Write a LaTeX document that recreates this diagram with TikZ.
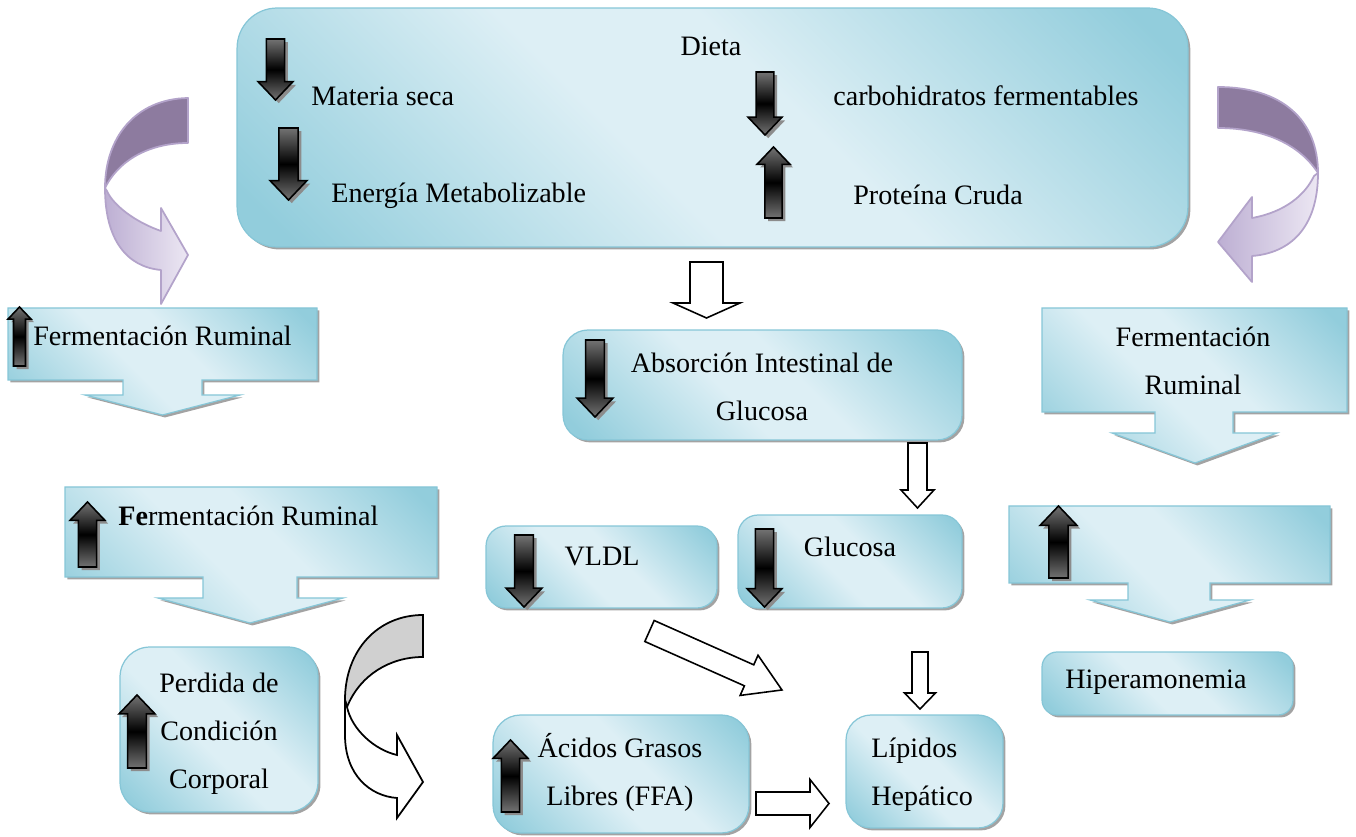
\documentclass[tikz,border=0pt]{standalone}
\usepackage{fontspec}
\setmainfont{Liberation Serif}
\usetikzlibrary{shadows}

\definecolor{boxlight}{HTML}{DDEFF5}
\definecolor{boxdark}{HTML}{92CDDC}
\definecolor{boxline}{HTML}{86C6D7}
\definecolor{purpledark}{HTML}{8D7B9F}
\definecolor{purplemid}{HTML}{BDAFD3}
\definecolor{purplelight}{HTML}{ECE7F3}
\definecolor{purpleline}{HTML}{B3A3CA}
\definecolor{curvegray}{HTML}{D0D0D0}

\pgfdeclarehorizontalshading{boxshade}{100bp}{color(0bp)=(boxdark); color(18bp)=(boxdark); color(44bp)=(boxlight); color(56bp)=(boxlight); color(82bp)=(boxdark); color(100bp)=(boxdark)}

% black block arrow: x, tail y, tip y : half width
\def\darkarrow(#1,#2,#3:#4){%
  \pgfmathsetmacro\hb{#3-(#3-#2)/abs(#3-#2)*1.05*#4}%
  \pgfmathsetmacro\sw{0.52*#4}%
  \draw[darkarr] (#1-\sw,#2) -- (#1-\sw,\hb) -- (#1-#4,\hb) -- (#1,#3) -- (#1+#4,\hb) -- (#1+\sw,\hb) -- (#1+\sw,#2) -- cycle;}
% outlined block arrow: tail, angle : length : shaft : head : head length
\def\fatarrow[#1](#2)(#3:#4:#5:#6:#7){\draw[#1, shift={(#2)}, rotate=#3] (0,-#5) -- (#4-#7,-#5) -- (#4-#7,-#6) -- (#4,0) -- (#4-#7,#6) -- (#4-#7,#5) -- (0,#5) -- cycle;}

\begin{document}
\begin{tikzpicture}[x=0.02cm, y=-0.02cm,
    bluebox/.style={draw=boxline, line width=0.7pt, shading=boxshade, shading angle=45,
      drop shadow={shadow xshift=1.4pt, shadow yshift=-1.4pt, fill=black!60, opacity=0.6}},
    darkarr/.style={draw=black, line width=0.9pt, top color=black!55, bottom color=black!55, middle color=black,
      drop shadow={shadow xshift=1.8pt, shadow yshift=-1.8pt, fill=black!45, opacity=1}},
    whitearr/.style={draw=black, line width=0.9pt, fill=white},
    purplearr/.style={draw=purpleline, line width=1pt, line join=round},
    lbl/.style={font=\fontsize{16}{27.3}\selectfont, inner sep=0pt}]
	%%%%% START %%%%%
	\useasboundingbox (0,0) rectangle (1356,837);
	
	% boxes
	\node[bluebox, rounded corners=0.8cm, minimum width=19.02cm, minimum height=4.78cm] (dieta) at (712.5,127.5) {};
	\node[bluebox, rounded corners=0.5cm, minimum width=7.98cm, minimum height=2.2cm] (absorcion) at (762.5,385) {};
	\node[bluebox, rounded corners=0.4cm, minimum width=4.48cm, minimum height=1.86cm] (glucosa) at (850,561.5) {};
	\node[bluebox, rounded corners=0.4cm, minimum width=4.62cm, minimum height=1.64cm] (vldl) at (601.5,567) {};
	\node[bluebox, rounded corners=0.6cm, minimum width=3.96cm, minimum height=3.3cm] (perdida) at (219,729.5) {};
	\node[bluebox, rounded corners=0.55cm, minimum width=5.12cm, minimum height=2.36cm] (ffa) at (621,774) {};
	\node[bluebox, rounded corners=0.5cm, minimum width=3.14cm, minimum height=2.26cm] (lipidos) at (924.5,771.5) {};
	\node[bluebox, rounded corners=0.3cm, minimum width=5.02cm, minimum height=1.26cm] (hiper) at (1167.5,683.5) {};
	
	% callouts
	\draw[bluebox] (8,308) -- (317,308) -- (317,380) -- (202,380) -- (202,395) -- (240,395) -- (162.5,415) -- (85,395) -- (123,395) -- (123,380) -- (8,380) -- cycle;
	\draw[bluebox] (65,487) -- (437,487) -- (437,577) -- (297,577) -- (297,598) -- (343,598) -- (250,623) -- (158,598) -- (203,598) -- (203,577) -- (65,577) -- cycle;
	\draw[bluebox] (1042,308) -- (1347,308) -- (1347,412) -- (1233,412) -- (1233,433) -- (1277,433) -- (1195,463) -- (1112,433) -- (1155,433) -- (1155,412) -- (1042,412) -- cycle;
	\draw[bluebox] (1009,506) -- (1330,506) -- (1330,583) -- (1210,583) -- (1210,600) -- (1250,600) -- (1170,622) -- (1090,600) -- (1128,600) -- (1128,583) -- (1009,583) -- cycle;
	
	% curved arrows
	\draw[purplearr, fill=purpledark] (188,98) .. controls (135,99) and (105,138) .. (105,188) .. controls (120,158) and (152,143) .. (188,143) -- cycle;
	\draw[purplearr, left color=purplemid, right color=purplelight] (105,188) .. controls (105,240) and (127,267) .. (161,270) -- (161,304) -- (188,255) -- (161,208) -- (161,231) .. controls (135,222) and (113,205) .. (107,191) -- cycle;
	
	\draw[purplearr, fill=purpledark] (1218,87) .. controls (1282,87) and (1318,120) .. (1318,173) .. controls (1300,145) and (1265,128) .. (1218,128) -- cycle;
	\draw[purplearr, left color=purplemid, right color=purplelight] (1318,173) .. controls (1318,228) and (1290,253) .. (1252,256) -- (1252,282) -- (1218,242) -- (1252,197) -- (1252,218) .. controls (1285,212) and (1305,195) .. (1314,176) -- cycle;
	
	\draw[line width=1pt, fill=curvegray] (423,615) .. controls (378,615) and (345,650) .. (345,700) -- (347,707) .. controls (360,675) and (390,657) .. (423,657) -- cycle;
	\draw[line width=1pt, fill=white] (345,700) -- (345,735) .. controls (345,775) and (370,796) .. (397,798) -- (397,818) -- (423,782) -- (397,735) -- (397,755) .. controls (375,750) and (352,730) .. (347,707) -- cycle;
	
	% white arrows
	\fatarrow[whitearr](706.5,262)(-90:56:16.5:33.5:15)
	\fatarrow[whitearr](917.5,443)(-90:65:9.5:16.5:18)
	\fatarrow[whitearr](920,652)(-90:57:8:15.5:16)
	\fatarrow[whitearr](756,803.5)(0:73:11.5:24:19)
	\fatarrow[whitearr](649.5,631)(-24:145:11.5:22:36)
	
	% black arrows
	\darkarrow(275.5,39,100:17.5)
	\darkarrow(288.5,128,200:18.5)
	\darkarrow(765,72,135:17)
	\darkarrow(773.5,218,147:16.5)
	\darkarrow(19.5,366,307:11.5)
	\darkarrow(87.5,567,502:17.5)
	\darkarrow(137,768,695:18)
	\darkarrow(595,340,417:18)
	\darkarrow(764.5,529,607:17.5)
	\darkarrow(524,535,607:18)
	\darkarrow(510.5,812,740:17.5)
	\darkarrow(1058.5,578,506:18.5)
	
	% texts
	\node[lbl] (dietatxt) at (711,46) {Dieta};
	\node[lbl, anchor=west] (materia) at (311,96) {Materia seca};
	\node[lbl, anchor=west] (carbo) at (833,96) {carbohidratos fermentables};
	\node[lbl, anchor=west] (energia) at (331,196) {Energía Metabolizable};
	\node[lbl, anchor=west] (proteina) at (853,195) {Proteína Cruda};
	\node[lbl, anchor=west] (ferm1) at (33,336) {Fermentación Ruminal};
	\node[lbl, anchor=west] (ferm2) at (118,516) {\textbf{Fe}rmentación Ruminal};
	\node[lbl, align=center] (ferm3) at (1193,361) {Fermentación\\Ruminal};
	\node[lbl, align=center] (abstxt) at (762,387) {Absorción Intestinal de\\Glucosa};
	\node[lbl] (glutxt) at (850,547) {Glucosa};
	\node[lbl] (vldltxt) at (602,557) {VLDL};
	\node[lbl, align=center] (perdtxt) at (219,734) {Perdida de\\Condición\\Corporal};
	\node[lbl, align=center] (ffatxt) at (620,772) {Ácidos Grasos\\Libres (FFA)};
	\node[lbl, align=left, anchor=west] (liptxt) at (871,775) {Lípidos\\Hepático};
	\node[lbl, anchor=west] (hipertxt) at (1065,682) {Hiperamonemia};
	
	%%%%% END %%%%%
\end{tikzpicture}
\end{document}
